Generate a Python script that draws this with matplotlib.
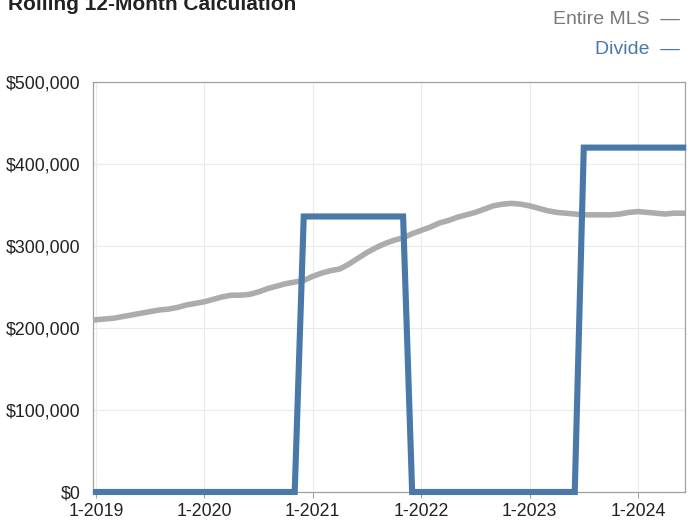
import numpy as np
import matplotlib.pyplot as plt
from matplotlib.ticker import FuncFormatter

plt.rcParams['font.family'] = ['Liberation Sans', 'DejaVu Sans']

# Monthly points, Jan 2019 .. Jun 2024
month_idx = np.arange(66)
tick_pos = [0, 12, 24, 36, 48, 60]
tick_labels = ["1-2019", "1-2020", "1-2021", "1-2022", "1-2023", "1-2024"]

# Rolling 12-month median sales price
entire_mls = [
    210000, 211000, 212000, 214000, 216000, 218000, 220000, 222000, 223000, 225000,
    228000, 230000, 232000, 235000, 238000, 240000, 240000, 241000, 244000, 248000,
    251000, 254000, 256000, 258000, 263000, 267000, 270000, 272000, 278000, 285000,
    292000, 298000, 303000, 307000, 310000, 315000, 319000, 323000, 328000, 331000,
    335000, 338000, 341000, 345000, 349000, 351000, 352000, 351000, 349000, 346000,
    343000, 341000, 340000, 339000, 338000, 338000, 338000, 338000, 339000, 341000,
    342000, 341000, 340000, 339000, 340000, 340000,
]
divide = [0] * 23 + [336000] * 12 + [0] * 19 + [420000] * 12

gray = "#acacac"
blue = "#4a78a8"

fig = plt.figure(figsize=(6.95, 5.23), dpi=100)
ax = fig.add_axes([0.1338, 0.0593, 0.852, 0.7839])

ax.plot(month_idx, entire_mls, color=gray, lw=4.0, solid_joinstyle="round", zorder=3)
ax.plot(month_idx, divide, color=blue, lw=4.4, solid_joinstyle="miter", clip_on=False, zorder=4)

ax.set_xlim(-0.33, 65.22)
ax.set_ylim(0, 500000)
ax.set_yticks(np.arange(0, 500001, 100000))
ax.yaxis.set_major_formatter(FuncFormatter(lambda v, p: f"${int(v):,}"))
ax.set_xticks(tick_pos)
ax.set_xticklabels(tick_labels)

ax.grid(True, color="#ebebeb", lw=0.8)
ax.set_axisbelow(True)
for s in ax.spines.values():
    s.set_color("#a0a0a0")
    s.set_linewidth(0.9)

ax.tick_params(axis="y", length=0, pad=9, labelsize=12.8, labelcolor="#222222")
ax.tick_params(axis="x", length=4, width=0.8, color="#a0a0a0", pad=4,
               labelsize=12.8, labelcolor="#222222")

# title sits partly off the top of the figure
fig.text(0.012, 0.981, "Rolling 12-Month Calculation", fontsize=15, fontweight="bold",
         color="#222222", va="baseline", ha="left")

# legend entries stacked at the top right
fig.text(0.978, 0.963, "Entire MLS  —", fontsize=14, color="#7a7a7a", ha="right", va="center")
fig.text(0.978, 0.906, "Divide  —", fontsize=14, color=blue, ha="right", va="center")

fig.savefig("out.png", dpi=100)
